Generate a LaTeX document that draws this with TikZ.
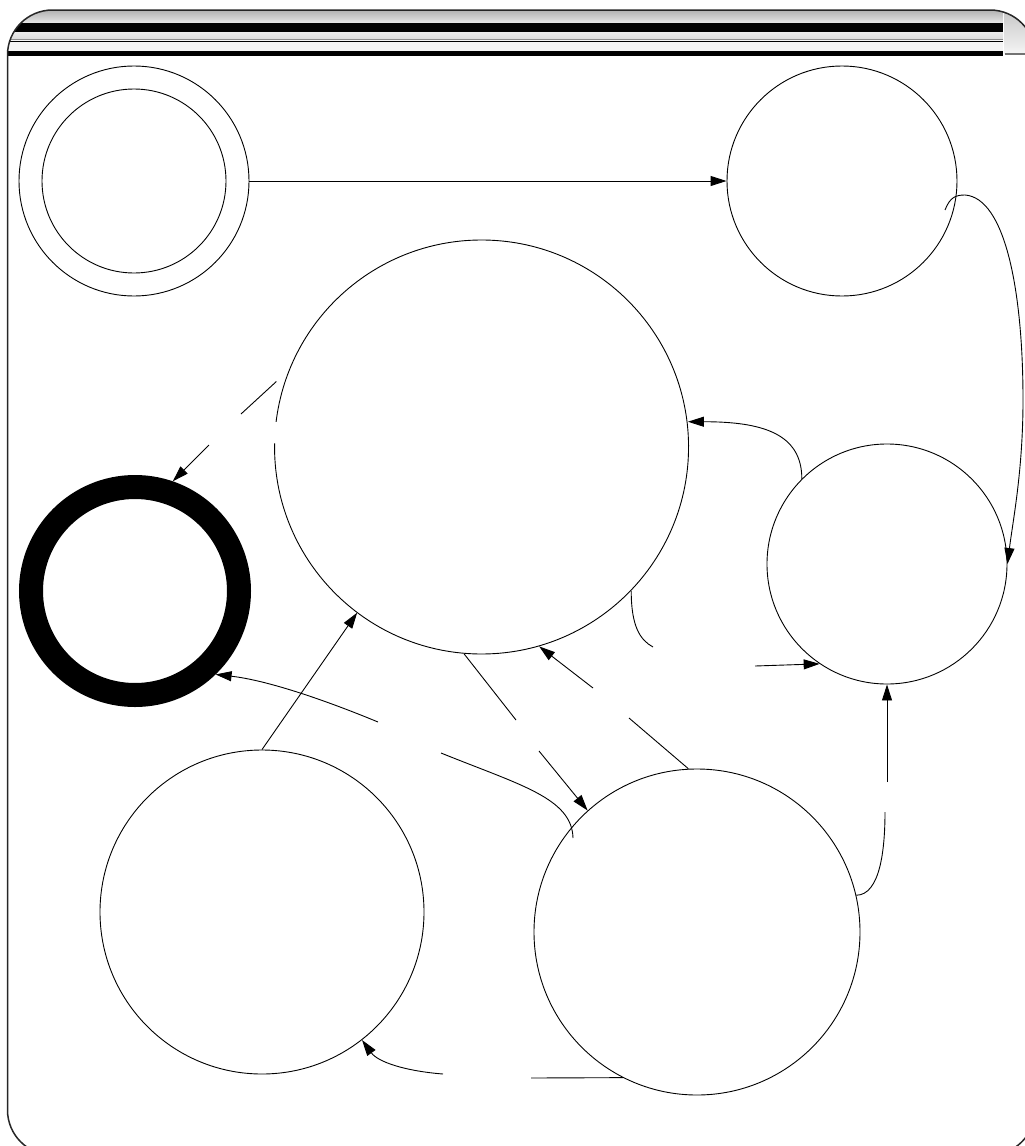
\documentclass[tikz,border=0pt]{standalone}
\usetikzlibrary{arrows.meta,calc}
\begin{document}
\begin{tikzpicture}[x=1pt,y=-1pt,
  state/.style={circle, draw, line width=0.9pt, minimum size=#1, inner sep=0pt},
  conn/.style={line width=0.9pt},
  arr/.style={conn, -{Triangle[length=16pt,width=10pt]}}]
\useasboundingbox (0,0) rectangle (1025,1146);
\clip (0,0) rectangle (1025,1146);
% ---- frame header ----
\begin{scope}
\clip[rounded corners=45pt] (7.5,10) rectangle (1035,1155);
\shade[top color=black!30, bottom color=black!10] (0,10) rectangle (1003,23);
\fill[black] (0,23) rectangle (1003,32);
\shade[top color=black!8, bottom color=black!14] (0,32) rectangle (1003,39);
\fill[black!45] (0,39) rectangle (1003,40.3);
\fill[black!4] (0,40.3) rectangle (1003,51);
\draw[black, line width=0.8pt] (0,41.8) -- (1003,41.8);
\fill[black] (0,51) rectangle (1003,55.5);
\shade[top color=black!22, bottom color=black!4] (1004.5,10) rectangle (1040,54);
\draw[black!55, line width=1.5pt] (1004.5,54) -- (1040,54);
\end{scope}
\draw[black!85, line width=1.5pt, rounded corners=45pt] (7.5,10) rectangle (1035,1155);
% ---- states ----
\node[state=230pt] (s0) at (134,181) {};
\node[state=184pt] (s0i) at (134,181) {};
\node[state=230pt] (s1) at (842,181) {};
\node[state=414pt, draw=none] (big) at (482,447) {};
\draw[conn] (big.179) arc[start angle=179, end angle=533, radius=207pt];
\node[state=240pt] (rm) at (887,564) {};
\node[circle, draw, line width=24pt, minimum size=208pt, inner sep=0pt] (fin) at (135,591) {};
\node[state=324pt] (bl) at (262,912) {};
\node[state=326pt] (br) at (697,932) {};
% ---- free ends of broken connectors ----
\coordinate (d1) at (241,414); \coordinate (d2) at (209,445);
\coordinate (e1) at (653,647); \coordinate (e2) at (755,666);
\coordinate (f1) at (629,718); \coordinate (f2) at (593,688);
\coordinate (g1) at (516,720); \coordinate (g2) at (539,751);
\coordinate (h1) at (441,753); \coordinate (h2) at (378,722);
\coordinate (j1) at (531,1078); \coordinate (j2) at (443,1074);
\coordinate (k1) at (885,812); \coordinate (k2) at (887,782);
% ---- connectors ----
\draw[arr] (s0.east) -- (s1.west);
\draw[arr] ($(s1.center)+(103,29)$) .. controls (950,197) and (956,195) .. (965,195)
   .. controls (1005,198) and (1023,290) .. (1023,400)
   .. controls (1023,470) and (1013,520) .. (rm.0);
\draw[arr] (rm.135) .. controls +(0,-45) and +(75,0) .. (big.7);
\draw[conn, shorten <=18pt] (big.158) -- (d1);
\draw[arr] (d2) -- (fin.71);
\draw[conn] (big.-44) .. controls +(0,35) and (640,640) .. (e1);
\draw[arr] (e2) -- (rm.-124);
\draw[conn] (br.93) -- (f1);
\draw[arr] (f2) -- (big.-74);
\draw[conn] (big.-95) -- (g1);
\draw[arr] (g2) -- (br.132);
\draw[conn] ($(br.center)+(-124,-94)$) .. controls (572,798) and (520,785) .. (h1);
\draw[arr] (h2) .. controls (320,698) and (265,680) .. (fin.-46);
\draw[arr] (bl.90) -- (big.-127);
\draw[conn] (br.-117) -- (j1);
\draw[arr] (j2) .. controls (405,1071) and (378,1062) .. (bl.-52);
\draw[conn] (br.13) .. controls (880,895) and (885,850) .. (k1);
\draw[arr] (k2) -- (rm.-90);
\end{tikzpicture}
\end{document}
